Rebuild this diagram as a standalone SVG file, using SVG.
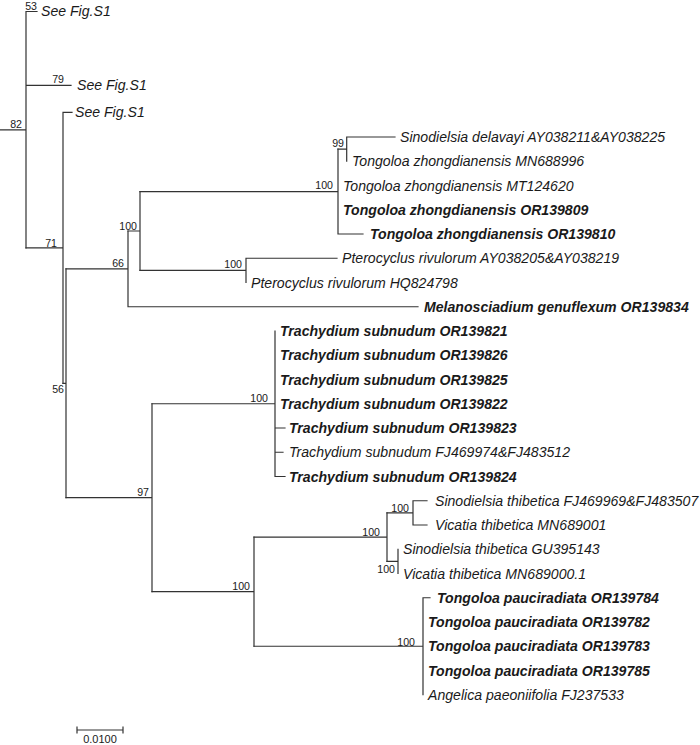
<svg xmlns="http://www.w3.org/2000/svg" width="700" height="745" viewBox="0 0 700 745">
<style>
.br{fill:none;stroke:#333;stroke-width:1.2;stroke-linecap:square}
.tip{font-family:"Liberation Sans",Arial,sans-serif;font-size:14.1px;font-style:italic;fill:#1a1a1a}
.b{font-weight:bold}
.bs{font-family:"Liberation Sans",Arial,sans-serif;font-size:10.6px;fill:#1a1a1a;text-anchor:end}
.sc{font-family:"Liberation Sans",Arial,sans-serif;font-size:11px;fill:#1a1a1a;text-anchor:middle}
</style>
<rect width="700" height="745" fill="#fff"/>
<g id="connectors">
<path class="br" d="M0,129.9H26M26,11.5V247.8M26,11.5H37M26,85.3H71"/>
<path class="br" d="M26,247.8H63M63,112.3V383.3M63,112.3H72"/>
<path class="br" d="M63,383.3H66M66,268.9V497.7"/>
<path class="br" d="M66,268.9H128M128,231V306.75M128,306.75H418"/>
<path class="br" d="M128,231H140M140,191.6V270.4"/>
<path class="br" d="M140,191.6H338M338,149.1V234M338,234H363"/>
<path class="br" d="M338,149.1H346.7M346.7,137V161.25M346.7,137H395"/>
<path class="br" d="M140,270.4H246M246,258.25V282.5M246,258.25H337"/>
<path class="br" d="M66,497.7H152M152,403.75V591.7"/>
<path class="br" d="M152,403.75H275M275,331V476.5M275,428H285M275,452.25H283M275,476.5H285"/>
<path class="br" d="M152,591.7H254M254,537.1V646.25"/>
<path class="br" d="M254,537.1H387M387,512.9V561.4"/>
<path class="br" d="M387,512.9H413M413,500.75V525M413,500.75H427M413,525H427"/>
<path class="br" d="M387,561.4H398M398,549.25V573.5"/>
<path class="br" d="M254,646.25H423M423,597.75V694.75M423,597.75H430"/>
<path class="br" d="M77,730H123M77,727V733M123,727V733"/>
</g>
<g id="n82"><text class="bs" x="22" y="128">82</text></g>
<g id="n53"><text class="bs" x="37" y="10">53</text></g>
<g id="n79"><text class="bs" x="64" y="83">79</text></g>
<g id="n71"><text class="bs" x="57" y="246.5">71</text></g>
<g id="n56"><text class="bs" x="64" y="393">56</text></g>
<g id="n66"><text class="bs" x="124" y="266.5">66</text></g>
<g id="n100a"><text class="bs" x="137" y="230">100</text></g>
<g id="n100b"><text class="bs" x="333" y="189">100</text></g>
<g id="n99"><text class="bs" x="344" y="146.5">99</text></g>
<g id="n100c"><text class="bs" x="242" y="267.5">100</text></g>
<g id="n97"><text class="bs" x="149" y="496">97</text></g>
<g id="n100d"><text class="bs" x="268" y="402">100</text></g>
<g id="n100e"><text class="bs" x="250" y="590">100</text></g>
<g id="n100f"><text class="bs" x="380" y="536">100</text></g>
<g id="n100g"><text class="bs" x="409" y="512">100</text></g>
<g id="n100h"><text class="bs" x="395" y="573">100</text></g>
<g id="n100i"><text class="bs" x="415" y="646">100</text></g>
<g id="t-s1a"><text class="tip" x="41" y="15.5">See Fig.S1</text></g>
<g id="t-s1b"><text class="tip" x="77" y="90">See Fig.S1</text></g>
<g id="t-s1c"><text class="tip" x="75" y="117">See Fig.S1</text></g>
<g id="t0"><text class="tip" x="400" y="142">Sinodielsia delavayi AY038211&amp;AY038225</text></g>
<g id="t1"><text class="tip" x="352" y="166.25">Tongoloa zhongdianensis MN688996</text></g>
<g id="t2"><text class="tip" x="343" y="190.5">Tongoloa zhongdianensis MT124620</text></g>
<g id="t3"><text class="tip b" x="343" y="214.75">Tongoloa zhongdianensis OR139809</text></g>
<g id="t4"><text class="tip b" x="370" y="239">Tongoloa zhongdianensis OR139810</text></g>
<g id="t5"><text class="tip" x="342" y="263.25">Pterocyclus rivulorum AY038205&amp;AY038219</text></g>
<g id="t6"><text class="tip" x="251" y="287.5">Pterocyclus rivulorum HQ824798</text></g>
<g id="t7"><text class="tip b" x="424" y="311.75">Melanosciadium genuflexum OR139834</text></g>
<g id="t8"><text class="tip b" x="280" y="336">Trachydium subnudum OR139821</text></g>
<g id="t9"><text class="tip b" x="280" y="360.25">Trachydium subnudum OR139826</text></g>
<g id="t10"><text class="tip b" x="280" y="384.5">Trachydium subnudum OR139825</text></g>
<g id="t11"><text class="tip b" x="280" y="408.75">Trachydium subnudum OR139822</text></g>
<g id="t12"><text class="tip b" x="289" y="433">Trachydium subnudum OR139823</text></g>
<g id="t13"><text class="tip" x="289" y="457.25">Trachydium subnudum FJ469974&amp;FJ483512</text></g>
<g id="t14"><text class="tip b" x="289" y="481.5">Trachydium subnudum OR139824</text></g>
<g id="t15"><text class="tip" x="435" y="505.75">Sinodielsia thibetica FJ469969&amp;FJ483507</text></g>
<g id="t16"><text class="tip" x="435" y="530">Vicatia thibetica MN689001</text></g>
<g id="t17"><text class="tip" x="403" y="554.25">Sinodielsia thibetica GU395143</text></g>
<g id="t18"><text class="tip" x="403" y="578.5">Vicatia thibetica MN689000.1</text></g>
<g id="t19"><text class="tip b" x="437" y="602.75">Tongoloa pauciradiata OR139784</text></g>
<g id="t20"><text class="tip b" x="428" y="627">Tongoloa pauciradiata OR139782</text></g>
<g id="t21"><text class="tip b" x="428" y="651.25">Tongoloa pauciradiata OR139783</text></g>
<g id="t22"><text class="tip b" x="428" y="675.5">Tongoloa pauciradiata OR139785</text></g>
<g id="t23"><text class="tip" x="428" y="699.75">Angelica paeoniifolia FJ237533</text></g>
<g id="scale"><text class="sc" x="100" y="743">0.0100</text></g>
</svg>
